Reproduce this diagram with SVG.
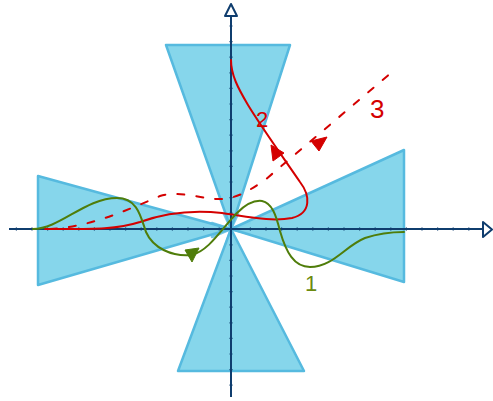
<svg xmlns="http://www.w3.org/2000/svg" width="493" height="401" viewBox="0 0 493 401">
<style>
.wedge{fill:#7fd4ea;stroke:#56badf;stroke-width:2.5;stroke-linejoin:round;fill-opacity:0.95}
.edge{stroke:#56badf;stroke-width:2.5;stroke-linecap:round;opacity:0.8}
.axis{stroke:#0f3d6e;stroke-width:2;fill:none}
.arrowhead{fill:#fff;stroke:#0f3d6e;stroke-width:2;stroke-linejoin:round}
.tick{stroke:#0f3d6e;stroke-width:1.2}
.red{stroke:#d40000;stroke-width:2;fill:none;stroke-linecap:round}
.green{stroke:#4f7d0a;stroke-width:2;fill:none;stroke-linecap:round}
.lblred{font-family:"Liberation Sans",sans-serif;fill:#d40000}
.lblgreen{font-family:"Liberation Sans",sans-serif;fill:#6b8a10}
</style>
<g id="wedges">
<g id="wedge-top">
<polygon class="wedge" points="166,45 290,45 231,229"/>
<line class="edge" x1="231" y1="229" x2="236" y2="244"/>
<line class="edge" x1="231" y1="229" x2="226" y2="244"/>
</g>
<g id="wedge-bottom">
<polygon class="wedge" points="178,371 304,371 231,229"/>
<line class="edge" x1="231" y1="229" x2="224" y2="214"/>
<line class="edge" x1="231" y1="229" x2="238" y2="214"/>
</g>
<g id="wedge-left">
<polygon class="wedge" points="38,176 38,285 231,229"/>
<line class="edge" x1="231" y1="229" x2="250" y2="234"/>
<line class="edge" x1="231" y1="229" x2="250" y2="223"/>
</g>
<g id="wedge-right">
<polygon class="wedge" points="404,150 404,282 231,229"/>
<line class="edge" x1="231" y1="229" x2="212" y2="237"/>
<line class="edge" x1="231" y1="229" x2="212" y2="223"/>
</g>
</g>
<g id="axes">
<line class="axis" x1="9" y1="229" x2="483" y2="229"/>
<polygon class="arrowhead" points="483,222 492,229.5 483,237"/>
<line class="axis" x1="231" y1="16" x2="231" y2="397"/>
<polygon class="arrowhead" points="225,16 231,4 237,16"/>
<g id="ticks">
<path class="tick" d="M16.4 227.5v3M32 227.5v3M47.6 227.5v3M63.2 227.5v3M78.8 227.5v3M94.4 227.5v3M110 227.5v3M125.6 227.5v3M141.2 227.5v3M156.8 227.5v3M172.4 227.5v3M188 227.5v3M203.6 227.5v3M219.2 227.5v3M250.4 227.5v3M266 227.5v3M281.6 227.5v3M297.2 227.5v3M312.8 227.5v3M328.4 227.5v3M344 227.5v3M359.6 227.5v3M375.2 227.5v3M390.8 227.5v3M406.4 227.5v3M422 227.5v3M437.6 227.5v3M453.2 227.5v3M468.8 227.5v3"/>
<path class="tick" d="M229.5 26h3M229.5 41.6h3M229.5 57.2h3M229.5 72.8h3M229.5 88.4h3M229.5 104h3M229.5 119.6h3M229.5 135.2h3M229.5 150.8h3M229.5 166.4h3M229.5 182h3M229.5 197.6h3M229.5 213.2h3M229.5 244.8h3M229.5 260.4h3M229.5 276h3M229.5 291.6h3M229.5 307.2h3M229.5 322.8h3M229.5 338.4h3M229.5 354h3M229.5 369.6h3M229.5 385.2h3"/>
</g>
</g>
<g id="connectors">
<g id="curve-3">
<path class="red" stroke-dasharray="7 12" d="M50 229 C 90 227, 125 211, 160 196 C 180 190, 205 200, 222 199 C 238 198, 250 190, 265 180 L 392 72"/>
<polygon fill="#d40000" stroke="#d40000" stroke-width="1" stroke-linejoin="round" points="327,137 319,151 311,141"/>
</g>
<g id="curve-2">
<path class="red" d="M45 229 C 90 229, 115 230, 140 222 C 165 213, 195 210, 222 213 C 250 217, 272 222, 292 218 C 312 213, 310 195, 300 182 C 285 160, 262 128, 248 105 C 238 88, 231 75, 231 60"/>
<polygon fill="#d40000" stroke="#d40000" stroke-width="1" stroke-linejoin="round" points="271,145 284,153 273,161"/>
</g>
<g id="curve-1">
<path class="green" d="M33 229 C 60 229, 85 198, 117 198 C 138 198, 141 218, 146 232 C 153 248, 172 257, 192 255 C 210 250, 222 228, 237 213 C 246 204, 254 200, 262 201 C 272 203, 276 215, 280 231 C 286 252, 294 267, 310 267 C 333 267, 345 246, 365 238 C 380 233, 393 232, 404 232"/>
<polygon fill="#4f7d0a" stroke="#4f7d0a" stroke-width="1" stroke-linejoin="round" points="199,248 185,250 192,262"/>
</g>
</g>
<g id="labels">
<text class="lblred" x="256" y="127" font-size="22">2</text>
<text class="lblred" x="370" y="118" font-size="26">3</text>
<text class="lblgreen" x="305" y="291" font-size="22">1</text>
</g>
</svg>
